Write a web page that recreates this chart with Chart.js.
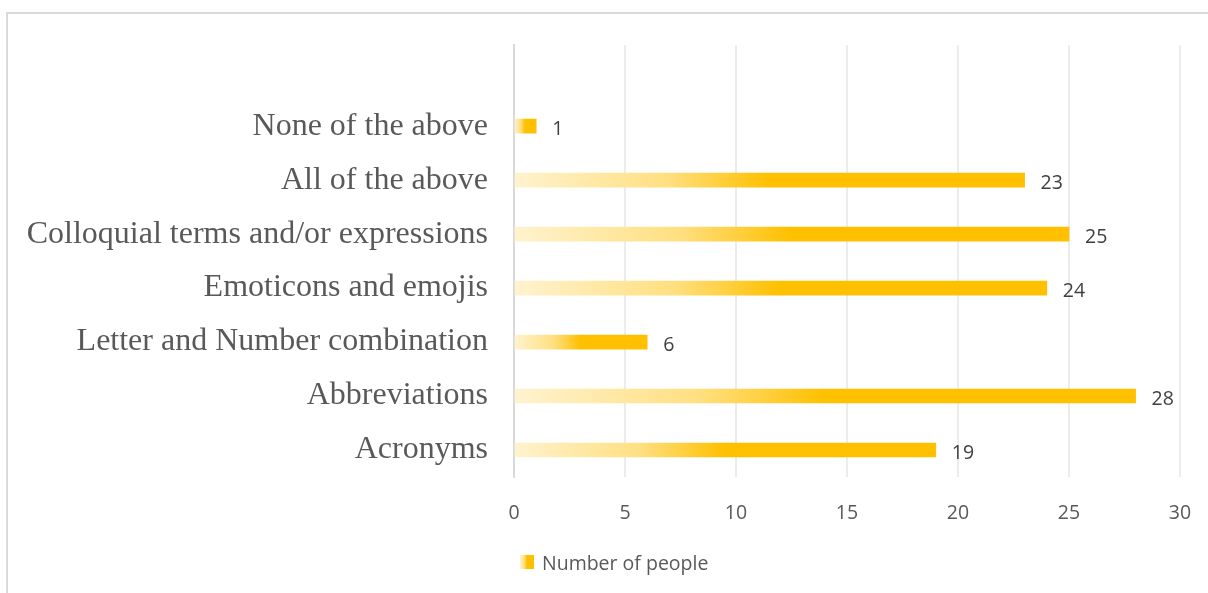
<!DOCTYPE html>
<html>
<head>
<meta charset="utf-8">
<script src="https://cdn.jsdelivr.net/npm/chart.js@4/dist/chart.umd.min.js"></script>
<style>
  html, body { margin: 0; padding: 0; background: #ffffff; }
  #wrap { position: relative; width: 1208px; height: 593px; overflow: hidden; }
  #frame { position: absolute; left: 6px; top: 12px; width: 1300px; height: 700px;
           border-top: 2px solid #d9d9d9; border-left: 2px solid #d9d9d9; }
  #chart { position: absolute; left: 0; top: 0; }
</style>
</head>
<body>
<div id="wrap">
  <div id="frame"></div>
  <canvas id="chart" width="1208" height="593"></canvas>
</div>
<script>
// Survey answers, top to bottom
const categories = [
  'None of the above',
  'All of the above',
  'Colloquial terms and/or expressions',
  'Emoticons and emojis',
  'Letter and Number combination',
  'Abbreviations',
  'Acronyms'
];
const values = [1, 23, 25, 24, 6, 28, 19];
const seriesName = 'Number of people';
const xTicks = [0, 5, 10, 15, 20, 25, 30];

const GOLD = '#ffc000';
const PALE = '#fff3cf';
const SANS = '"Open Sans", "Noto Sans", sans-serif';

function barGradient(ctx2d, x0, x1) {
  const g = ctx2d.createLinearGradient(x0, 0, x1, 0);
  g.addColorStop(0, PALE);
  g.addColorStop(0.3, '#ffdf80');
  g.addColorStop(0.5, GOLD);
  g.addColorStop(1, GOLD);
  return g;
}

// Value labels just past the end of each bar
const valueLabels = {
  id: 'valueLabels',
  afterDatasetsDraw(chart) {
    const ctx = chart.ctx;
    const meta = chart.getDatasetMeta(0);
    const data = chart.data.datasets[0].data;
    ctx.save();
    ctx.font = '19.5px ' + SANS;
    ctx.fillStyle = '#404040';
    ctx.textAlign = 'left';
    ctx.textBaseline = 'middle';
    meta.data.forEach((bar, i) => {
      if (data[i] == null) return;
      ctx.fillText(String(data[i]), bar.x + 16, bar.y + 3);
    });
    ctx.restore();
  }
};

// Series key below the axis
const seriesKey = {
  id: 'seriesKey',
  afterDraw(chart) {
    const ctx = chart.ctx;
    const bx = 520, by = 555, s = 14;
    ctx.save();
    ctx.fillStyle = barGradient(ctx, bx, bx + s);
    ctx.fillRect(bx, by, s, s);
    ctx.font = '19.5px ' + SANS;
    ctx.fillStyle = '#595959';
    ctx.textAlign = 'left';
    ctx.textBaseline = 'middle';
    ctx.fillText(seriesName, 542, by + s / 2 + 2);
    ctx.restore();
  }
};

// A spacer row above the first answer keeps the grid reaching to the top
const labels = [''].concat(categories);
const rowValues = [null].concat(values);

new Chart(document.getElementById('chart'), {
  type: 'bar',
  data: {
    labels: labels,
    datasets: [{
      label: seriesName,
      data: rowValues,
      barThickness: 14,
      borderWidth: 0,
      backgroundColor(c) {
        const chart = c.chart;
        if (!chart.chartArea || c.raw == null || !chart.scales.x) return GOLD;
        const xs = chart.scales.x;
        return barGradient(chart.ctx, xs.getPixelForValue(0), xs.getPixelForValue(c.raw));
      }
    }]
  },
  options: {
    indexAxis: 'y',
    responsive: false,
    animation: false,
    devicePixelRatio: 1,
    layout: { padding: { left: 0, right: 28, top: 42, bottom: 66 } },
    plugins: {
      legend: { display: false },
      tooltip: { enabled: false },
      title: { display: false }
    },
    scales: {
      x: {
        type: 'linear',
        min: 0,
        max: 30,
        afterBuildTicks(scale) { scale.ticks = xTicks.map(v => ({ value: v })); },
        afterFit(scale) {
          scale.height = 50;
          // the outer layout padding already leaves room for the end labels
          scale.paddingLeft = 0;
          scale.paddingRight = 0;
        },
        grid: { color: '#ececec', lineWidth: 2, drawTicks: false, tickLength: 0 },
        border: { display: false },
        ticks: {
          padding: 25,
          color: '#595959',
          font: { family: SANS, size: 19.5 }
        }
      },
      y: {
        type: 'category',
        afterFit(scale) { scale.width = 514; },
        grid: { display: false, drawTicks: false, tickLength: 0 },
        border: { display: true, color: '#d9d9d9', width: 2 },
        ticks: {
          padding: 26,
          color: '#595959',
          autoSkip: false,
          font: { family: '"Liberation Serif", "Times New Roman", serif', size: 32 }
        }
      }
    }
  },
  plugins: [valueLabels, seriesKey]
});
</script>
</body>
</html>
